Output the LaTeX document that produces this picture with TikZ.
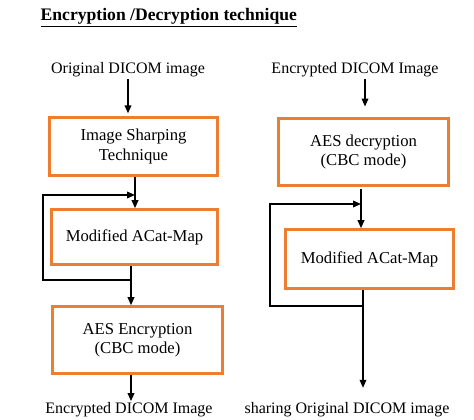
\documentclass[tikz,border=0pt]{standalone}
\usepackage{fontspec}
\setmainfont{Liberation Serif}
\usepackage{tikz}
\usetikzlibrary{positioning, arrows.meta}
\definecolor{boxorange}{HTML}{ED7D31}

\begin{document}
\begin{tikzpicture}[x=0.75pt, y=-0.75pt,
    stagebox/.style={draw=boxorange, line width=2.2pt, align=center, inner sep=2pt, font=\fontsize{12.5}{14.5}\selectfont},
    lbl/.style={font=\fontsize{12}{14}\selectfont, inner sep=1pt},
    arr/.style={-{Triangle[length=6pt, width=5pt]}, line width=1.1pt}]

\useasboundingbox (0,0) rectangle (474,420);

% --- Title ---
\node[anchor=west, font=\bfseries\fontsize{13.2}{15}\selectfont] (title) at (36,18) {\underline{Encryption /Decryption technique}};

% --- Encryption side (left) ---
\node[lbl] (in1) at (128,70) {Original DICOM image};
\node[stagebox, minimum width=126pt, minimum height=43.5pt] (sharp) at (133.5,146.5) {Image Sharping\\Technique};
\node[stagebox, minimum width=125pt, minimum height=41pt] (acatL) at (134.5,237) {Modified ACat-Map};
\node[stagebox, minimum width=128pt, minimum height=50pt] (aesE) at (137.5,340) {AES Encryption\\(CBC mode)};
\node[lbl] (out1) at (129,410) {Encrypted DICOM Image};

% feedback loop points
\coordinate (fbL1) at (131,280);
\coordinate (fbL2) at (43,280);
\coordinate (fbL3) at (43,195);
\coordinate (fbL4) at (135,195);

\draw[arr, shorten >=2pt] (in1.south) -- (in1.south |- sharp.north);
\draw[arr] (sharp.south -| fbL4) -- (fbL4 |- acatL.north);
\draw[arr] (fbL1) -- (fbL2) -- (fbL3) -- (fbL4);
\draw[arr] (acatL.south -| fbL1) -- (fbL1 |- aesE.north);
\draw[arr] (aesE.south -| fbL1) -- (out1.north -| fbL1);

% --- Decryption side (right) ---
\node[lbl] (in2) at (355,70) {Encrypted DICOM Image};
\node[stagebox, minimum width=128pt, minimum height=50pt] (aesD) at (363.5,152) {AES decryption\\(CBC mode)};
\node[stagebox, minimum width=126pt, minimum height=44pt] (acatR) at (369.5,259) {Modified ACat-Map};
\node[lbl] (out2) at (347,410) {sharing Original DICOM image};

% feedback loop points
\coordinate (fbR1) at (363,306);
\coordinate (fbR2) at (270,306);
\coordinate (fbR3) at (270,204);
\coordinate (fbR4) at (361,204);

\draw[arr, shorten >=8pt] (in2.south -| 365,0) -- (aesD.north -| 365,0);
\draw[arr] ([yshift=-2pt]aesD.south -| fbR4) -- (fbR4 |- acatR.north);
\draw[arr] (fbR1) -- (fbR2) -- (fbR3) -- (fbR4);
\draw[arr, shorten >=10pt] (acatR.south -| fbR1) -- (out2.north -| fbR1);

\end{tikzpicture}
\end{document}
